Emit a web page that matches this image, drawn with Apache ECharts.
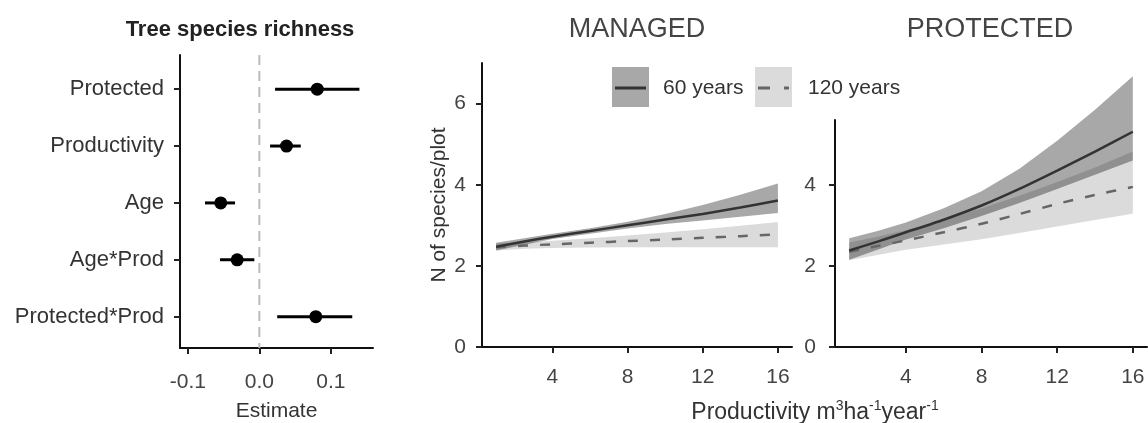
<!DOCTYPE html>
<html>
<head>
<meta charset="utf-8">
<script src="https://cdn.jsdelivr.net/npm/echarts@6/dist/echarts.min.js"></script>
<style>
  html, body { margin: 0; padding: 0; background: #fff; }
  #chart { width: 1148px; height: 423px; }
</style>
</head>
<body>
<div id="chart"></div>
<script>
// forest plot (model estimates)
const terms = ['Protected', 'Productivity', 'Age', 'Age*Prod', 'Protected*Prod']
const estimate = [0.081, 0.038, -0.054, -0.031, 0.079]
const ciLow = [0.022, 0.015, -0.076, -0.055, 0.025]
const ciHigh = [0.140, 0.058, -0.034, -0.007, 0.130]
const estTicks = [-0.1, 0, 0.1]

// predicted richness vs productivity
const prodX = [1, 2.5, 4, 6, 8, 10, 12, 14, 16]
const prodTicks = [4, 8, 12, 16]

const man60 = [2.47, 2.60, 2.72, 2.86, 3.00, 3.14, 3.28, 3.44, 3.61]
const man60Lo = [2.38, 2.52, 2.66, 2.79, 2.92, 3.03, 3.12, 3.21, 3.30]
const man60Hi = [2.57, 2.68, 2.79, 2.93, 3.09, 3.28, 3.50, 3.75, 4.03]
const man120 = [2.46, 2.50, 2.53, 2.57, 2.61, 2.65, 2.69, 2.73, 2.78]
const man120Lo = [2.38, 2.42, 2.44, 2.45, 2.46, 2.46, 2.46, 2.46, 2.46]
const man120Hi = [2.55, 2.58, 2.62, 2.68, 2.75, 2.82, 2.90, 2.99, 3.08]

const pro60 = [2.38, 2.60, 2.83, 3.14, 3.49, 3.90, 4.35, 4.82, 5.31]
const pro60Lo = [2.15, 2.40, 2.65, 2.93, 3.23, 3.55, 3.90, 4.25, 4.60]
const pro60Hi = [2.68, 2.86, 3.07, 3.42, 3.84, 4.40, 5.09, 5.85, 6.68]
const pro120 = [2.35, 2.49, 2.63, 2.83, 3.04, 3.28, 3.53, 3.75, 3.95]
const pro120Lo = [2.14, 2.27, 2.40, 2.53, 2.66, 2.81, 2.97, 3.13, 3.29]
const pro120Hi = [2.58, 2.72, 2.88, 3.13, 3.42, 3.73, 4.07, 4.43, 4.82]

const FONT = '"Liberation Sans", Arial, sans-serif'
const DARK_FILL = 'rgba(0,0,0,0.34)'
const LIGHT_FILL = 'rgba(0,0,0,0.14)'

const axisLine = { onZero: false, lineStyle: { color: '#111', width: 2 } }
const axisTick = { length: 6, lineStyle: { color: '#222', width: 2 } }
const tickLabel = { color: '#444', fontSize: 21, fontFamily: FONT }

const chart = echarts.init(document.getElementById('chart'), null, { renderer: 'canvas' })

// confidence band drawn as one polygon: upper edge forward, lower edge back
function ribbon(lo, hi, fill, idx) {
  return {
    type: 'custom', xAxisIndex: idx, yAxisIndex: idx, silent: true, clip: false,
    renderItem: (params, api) => {
      if (params.dataIndex !== 0) return
      const top = prodX.map((x, i) => api.coord([x, hi[i]]))
      const bottom = prodX.map((x, i) => api.coord([x, lo[i]])).reverse()
      return { type: 'polygon', shape: { points: top.concat(bottom) }, style: { fill } }
    },
    encode: { x: 0, y: [1, 2] },
    data: prodX.map((x, i) => [x, lo[i], hi[i]]),
  }
}

function fitLine(vals, idx, dashed) {
  return {
    type: 'line', xAxisIndex: idx, yAxisIndex: idx, smooth: 0.2, symbol: 'none', silent: true,
    lineStyle: dashed ? { color: '#666', width: 2.5, type: [10, 12] } : { color: '#333', width: 2.5 },
    data: prodX.map((x, i) => [x, vals[i]]),
    z: 3,
  }
}

function prodXAxis(idx) {
  return {
    type: 'value', gridIndex: idx, min: 0.25, max: 16.75,
    axisLine, axisTick: { ...axisTick, customValues: prodTicks },
    axisLabel: { ...tickLabel, margin: 20, customValues: prodTicks },
    splitLine: { show: false },
  }
}

chart.setOption({
  backgroundColor: '#fff',
  animation: false,
  title: [
    { text: 'Tree species richness', left: 235, top: 14, textAlign: 'center',
      textStyle: { fontSize: 22, fontWeight: 'bold', color: '#222', fontFamily: FONT } },
    { text: 'MANAGED', left: 632, top: 11, textAlign: 'center',
      textStyle: { fontSize: 27, fontWeight: 'normal', color: '#444', fontFamily: FONT } },
    { text: 'PROTECTED', left: 985, top: 11, textAlign: 'center',
      textStyle: { fontSize: 27, fontWeight: 'normal', color: '#444', fontFamily: FONT } },
    { text: '{n|Productivity m}{s|3}{n|ha}{s|-1}{n|year}{s|-1}', left: 810, top: 394, textAlign: 'center',
      textStyle: {
        fontWeight: 'normal',
        rich: {
          n: { fontSize: 23, fontWeight: 'normal', color: '#333', fontFamily: FONT, lineHeight: 27 },
          s: { fontSize: 14, fontWeight: 'normal', color: '#333', fontFamily: FONT, lineHeight: 27, padding: [0, 0, 12, 0] },
        },
      } },
  ],
  grid: [
    { left: 180, top: 55, width: 193, height: 293, outerBoundsMode: 'none' },
    { left: 482, top: 63, width: 310, height: 284, outerBoundsMode: 'none' },
    { left: 835, top: 120, width: 312, height: 227, outerBoundsMode: 'none' },
  ],
  xAxis: [
    {
      type: 'value', gridIndex: 0, min: -0.111, max: 0.159,
      name: 'Estimate', nameLocation: 'middle', nameGap: 53,
      nameTextStyle: { fontSize: 21, color: '#333', fontFamily: FONT },
      axisLine, axisTick: { ...axisTick, customValues: estTicks },
      axisLabel: { ...tickLabel, margin: 24, customValues: estTicks, formatter: v => v.toFixed(1) },
      splitLine: { show: false },
    },
    prodXAxis(1),
    prodXAxis(2),
  ],
  yAxis: [
    {
      type: 'value', gridIndex: 0, inverse: true, min: 0.4, max: 5.55,
      axisLine, axisTick: { ...axisTick, customValues: [1, 2, 3, 4, 5] },
      axisLabel: { ...tickLabel, fontSize: 22, color: '#333', margin: 16, customValues: [1, 2, 3, 4, 5],
        formatter: v => terms[Math.round(v) - 1] },
      splitLine: { show: false },
    },
    {
      type: 'value', gridIndex: 1, min: 0, max: 7,
      name: 'N of species/plot', nameLocation: 'middle', nameGap: 32,
      nameTextStyle: { fontSize: 21, color: '#333', fontFamily: FONT },
      axisLine, axisTick: { ...axisTick, customValues: [0, 2, 4, 6] },
      axisLabel: { ...tickLabel, margin: 16, customValues: [0, 2, 4, 6] },
      splitLine: { show: false },
    },
    {
      type: 'value', gridIndex: 2, min: 0, max: 5.6,
      axisLine, axisTick: { ...axisTick, customValues: [0, 2, 4] },
      axisLabel: { ...tickLabel, margin: 19, customValues: [0, 2, 4] },
      splitLine: { show: false },
    },
  ],
  series: [
    {
      // dashed reference line at zero
      type: 'line', xAxisIndex: 0, yAxisIndex: 0, symbol: 'none', silent: true,
      lineStyle: { color: '#bbb', width: 2, type: [10, 6] },
      data: [[0, 0.4], [0, 5.55]],
      z: 1,
    },
    {
      type: 'custom', xAxisIndex: 0, yAxisIndex: 0, silent: true,
      renderItem: (params, api) => {
        const a = api.coord([api.value(0), api.value(2)])
        const b = api.coord([api.value(1), api.value(2)])
        return { type: 'line', shape: { x1: a[0], y1: a[1], x2: b[0], y2: b[1] },
          style: { stroke: '#000', lineWidth: 3 } }
      },
      encode: { x: [0, 1], y: 2 },
      data: terms.map((t, i) => [ciLow[i], ciHigh[i], i + 1]),
      z: 2,
    },
    {
      type: 'scatter', xAxisIndex: 0, yAxisIndex: 0, silent: true,
      symbolSize: 13, itemStyle: { color: '#000', opacity: 1 },
      data: terms.map((t, i) => [estimate[i], i + 1]),
      z: 3,
    },
    ribbon(man120Lo, man120Hi, LIGHT_FILL, 1),
    ribbon(man60Lo, man60Hi, DARK_FILL, 1),
    fitLine(man120, 1, true),
    fitLine(man60, 1, false),
    ribbon(pro120Lo, pro120Hi, LIGHT_FILL, 2),
    ribbon(pro60Lo, pro60Hi, DARK_FILL, 2),
    fitLine(pro120, 2, true),
    fitLine(pro60, 2, false),
  ],
  graphic: [
    { type: 'rect', shape: { x: 612, y: 67, width: 37, height: 40 }, style: { fill: DARK_FILL } },
    { type: 'line', shape: { x1: 615, y1: 88, x2: 646, y2: 88 }, style: { stroke: '#333', lineWidth: 3 } },
    { type: 'text', x: 663, y: 88, style: { text: '60 years', fontSize: 21, fill: '#333', fontFamily: FONT, verticalAlign: 'middle' } },
    { type: 'rect', shape: { x: 755, y: 67, width: 37, height: 40 }, style: { fill: LIGHT_FILL } },
    { type: 'line', shape: { x1: 758, y1: 88, x2: 789, y2: 88 }, style: { stroke: '#666', lineWidth: 3, lineDash: [12, 14] } },
    { type: 'text', x: 808, y: 88, style: { text: '120 years', fontSize: 21, fill: '#333', fontFamily: FONT, verticalAlign: 'middle' } },
  ],
})
</script>
</body>
</html>
